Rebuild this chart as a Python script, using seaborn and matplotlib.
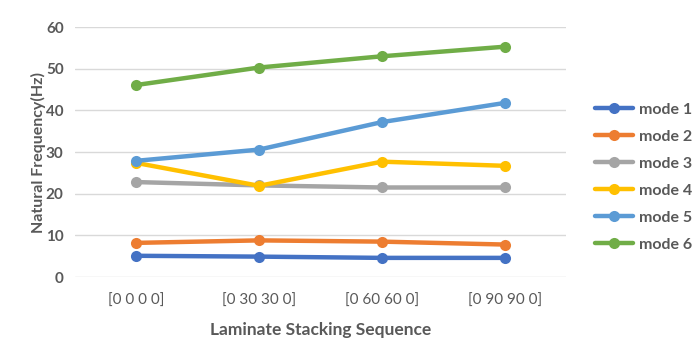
import pandas as pd
import seaborn as sns
import matplotlib.pyplot as plt

# =================== Data ===================

sequences = ['[0 0 0 0]', '[0 30 30 0]', '[0 60 60 0]', '[0 90 90 0]']
modes = ['mode 1', 'mode 2', 'mode 3', 'mode 4', 'mode 5', 'mode 6']

mode1 = [5.1, 4.9, 4.6, 4.6]
mode2 = [8.2, 8.8, 8.5, 7.8]
mode3 = [22.8, 22.0, 21.5, 21.5]
mode4 = [27.4, 21.9, 27.7, 26.7]
mode5 = [27.9, 30.6, 37.2, 41.8]
mode6 = [46.1, 50.3, 53.0, 55.3]

colors = ['#4472C4', '#ED7D31', '#A5A5A5', '#FFC000', '#5B9BD5', '#70AD47']

# =================== Build table ===================

rows = []
for name, vals in zip(modes, [mode1, mode2, mode3, mode4, mode5, mode6]):
    for seq, v in zip(sequences, vals):
        rows.append({'Sequence': seq, 'Frequency': v, 'Mode': name})
df = pd.DataFrame(rows)

# =================== Plot ===================

sns.set_style('white')
plt.rcParams['font.family'] = ['Lato', 'DejaVu Sans']
text_color = '#595959'

fig, ax = plt.subplots(figsize=(6.99, 3.57), dpi=100)
fig.subplots_adjust(left=0.107, right=0.81, top=0.924, bottom=0.224)

sns.lineplot(
    data=df, x='Sequence', y='Frequency', hue='Mode',
    palette=colors, marker='o', markersize=8, markeredgewidth=0,
    linewidth=3.2, sort=False, ax=ax
)

ax.set_xlim(-0.5, 3.5)
ax.set_ylim(0, 60)
ax.set_yticks(range(0, 61, 10))
ax.yaxis.grid(True, color='#D9D9D9', linewidth=1)
ax.set_axisbelow(True)
for s in ax.spines.values():
    s.set_visible(False)
ax.tick_params(axis='both', length=0, colors=text_color)
ax.tick_params(axis='x', labelsize=11, pad=12)
ax.tick_params(axis='y', labelsize=11, pad=8)
for lbl in ax.get_yticklabels():
    lbl.set_fontweight('bold')

ax.set_xlabel('Laminate Stacking Sequence', fontsize=12.5, fontweight='bold',
              color=text_color, labelpad=10)
ax.set_ylabel('Natural Frequency(Hz)', fontsize=11.5, fontweight='bold',
              color=text_color, labelpad=0)

leg = ax.legend(loc='center left', bbox_to_anchor=(1.045, 0.4), frameon=False,
                fontsize=11.5, handlelength=2.4, handletextpad=0.4,
                labelspacing=0.8, borderaxespad=0)
for t in leg.get_texts():
    t.set_color(text_color)
    t.set_fontweight('bold')

plt.savefig('out.png', dpi=100)
